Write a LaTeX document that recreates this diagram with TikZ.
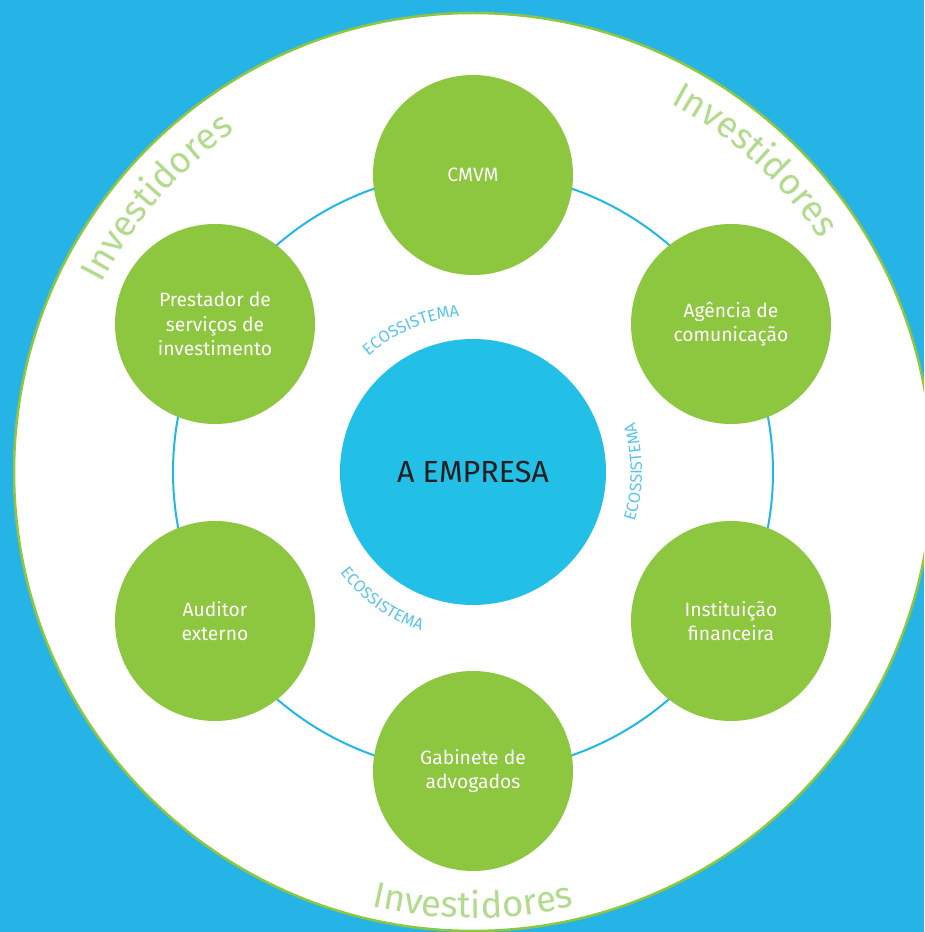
\documentclass[tikz,border=0pt]{standalone}
\usepackage{fontspec}
\setmainfont{Fira Sans}
\usetikzlibrary{decorations.text}
\definecolor{bgblue}{HTML}{26B4E7}
\definecolor{coreblue}{HTML}{22BFE6}
\definecolor{ringblue}{HTML}{22B8E6}
\definecolor{leaf}{HTML}{8DC63F}
\definecolor{paleleaf}{HTML}{B2DB8D}
\definecolor{ecoblue}{HTML}{5BC5EA}
\definecolor{darktext}{HTML}{231F20}
\begin{document}
\begin{tikzpicture}[x=1pt,y=1pt,
  member/.style={circle, fill=leaf, minimum size=200pt, inner sep=0pt, text=white, align=center, font=\fontsize{19.3}{24.5}\selectfont},
  core/.style={circle, fill=coreblue, minimum size=266pt, inner sep=0pt, text=darktext, font=\fontsize{30.5}{31}\selectfont},
  invtext/.style={decorate, decoration={text along path, text align=center, text color=paleleaf, text={|\fontsize{36.5}{37}\selectfont|Investidores}}},
  ecotext/.style={decorate, decoration={text along path, text align=center, text color=ecoblue, text={|\fontsize{16.5}{17}\selectfont|ECOSSISTEMA}}}
]
\fill[bgblue] (0,0) rectangle (924,932);
\useasboundingbox (0,0) rectangle (924,932);
\clip (0,0) rectangle (924,932);
\coordinate (C) at (473,460);
\draw[leaf, line width=2.5pt, fill=white] (C) circle[radius=459pt];
\draw[ringblue, line width=2pt] (C) circle[radius=300pt];
\node[core] (emp) at (C) {A EMPRESA};
\node[member] (cmvm) at (473,757) {CMVM};
\node[member] (agen) at (731,608) {Agência de\\comunicação};
\node[member] (inst) at (731,311) {Instituição\\financeira};
\node[member] (gab) at (473,161) {Gabinete de\\advogados};
\node[member] (aud) at (215,311) {Auditor\\externo};
\node[member] (prest) at (215,608) {Prestador de\\serviços de\\investimento};
\path[invtext] (C) ++(175:416pt) arc[start angle=175, end angle=103, radius=416pt];
\path[invtext] (C) ++(83.8:418pt) arc[start angle=83.8, end angle=11.8, radius=418pt];
\path[invtext] (C) ++(235:446pt) arc[start angle=235, end angle=305, radius=446pt];
\path[ecotext] (C) ++(153.5:156pt) arc[start angle=153.5, end angle=73.5, radius=156pt];
\path[ecotext] (C) ++(-40:169pt) arc[start angle=-40, end angle=40, radius=169pt];
\path[ecotext] (C) ++(194.5:167pt) arc[start angle=194.5, end angle=274.5, radius=167pt];
\end{tikzpicture}
\end{document}
